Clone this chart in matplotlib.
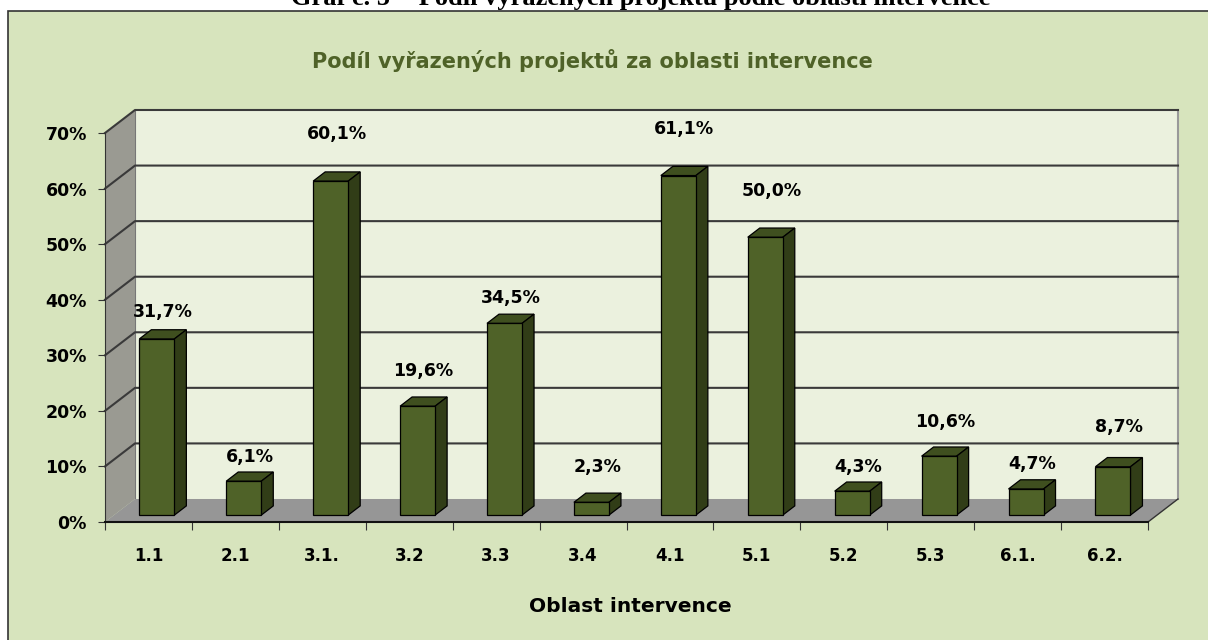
import matplotlib
matplotlib.use("Agg")
import matplotlib.pyplot as plt
from matplotlib.patches import Polygon, Rectangle

# data
oblasti = ["1.1", "2.1", "3.1.", "3.2", "3.3", "3.4", "4.1", "5.1", "5.2", "5.3", "6.1.", "6.2."]
podil = [31.7, 6.1, 60.1, 19.6, 34.5, 2.3, 61.1, 50.0, 4.3, 10.6, 4.7, 8.7]
y_ticks = [0, 10, 20, 30, 40, 50, 60, 70]

# label lift above bar top (points), as placed in the original
label_lift = [13, 11, 27, 19, 12, 19, 27, 27, 11, 18, 11, 22]

bg = "#D7E4BD"
wall = "#EBF1DE"
floor_c = "#969696"
side_c = "#9A9A92"
bar_front = "#4F6228"
bar_top = "#3F4F1F"
bar_side = "#313D17"
grid_c = "#3A3A3A"
font = "DejaVu Sans"

fig = plt.figure(figsize=(12.08, 6.40), dpi=100)
fig.patch.set_facecolor("white")

# chart box
box = Rectangle((8 / 1208, -0.01), 1.1, (640 - 11) / 640 + 0.01, transform=fig.transFigure,
                facecolor=bg, edgecolor="#333333", linewidth=1.2, zorder=-10)
fig.patches.append(box)

# cut-off document caption at the very top
fig.text(641 / 1208, 1 - 5 / 640, "Graf č. 5 -  Podíl vyřazených projektů podle oblasti intervence",
         ha="center", va="baseline", fontsize=19, fontweight="bold",
         family="Liberation Serif", color="black", zorder=-20)

ax = fig.add_axes([105 / 1208, (640 - 522) / 640, (1148 - 105) / 1208, (522 - 133) / 640])
ax.set_xlim(-0.5, len(oblasti) - 0.5)
ax.set_ylim(0, 70)
ax.patch.set_visible(False)

n = len(oblasti)
x0, x1 = -0.5, n - 0.5
dx, dy = 0.345, 4.14   # depth of the 3D box in data units

# back wall
ax.add_patch(Rectangle((x0 + dx, dy), x1 - x0, 70, facecolor=wall, edgecolor="none", zorder=0, clip_on=False))
ax.plot([x1 + dx, x1 + dx], [dy, 70 + dy], color="#999999", lw=1.5, zorder=1, clip_on=False)
# side wall
ax.add_patch(Polygon([(x0, 0), (x0 + dx, dy), (x0 + dx, 70 + dy), (x0, 70)],
                     facecolor=side_c, edgecolor="none", zorder=0, clip_on=False))
ax.plot([x0 + dx, x0 + dx], [dy, 70 + dy], color="#777777", lw=0.8, zorder=1, clip_on=False)
# floor
ax.add_patch(Polygon([(x0, 0), (x1, 0), (x1 + dx, dy), (x0 + dx, dy)],
                     facecolor=floor_c, edgecolor="none", zorder=1, clip_on=False))
ax.plot([x1, x1 + dx], [0, dy], color="#333333", lw=1, zorder=2, clip_on=False)

# gridlines
for t in y_ticks[1:]:
    ax.plot([x0, x0 + dx, x1 + dx], [t, t + dy, t + dy], color=grid_c, lw=1.5, zorder=1, clip_on=False)

# bars
w = 0.403
for i, v in enumerate(podil):
    left = i - w / 2 + 0.28 * dx
    base = 0.3 * dy
    ddx, ddy = 0.4 * dx, 0.4 * dy
    ax.add_patch(Polygon([(left, base + v), (left + w, base + v), (left + w + ddx, base + v + ddy),
                          (left + ddx, base + v + ddy)],
                         facecolor=bar_top, edgecolor="black", lw=0.9, zorder=3, clip_on=False))
    ax.add_patch(Polygon([(left + w, base), (left + w + ddx, base + ddy), (left + w + ddx, base + v + ddy),
                          (left + w, base + v)],
                         facecolor=bar_side, edgecolor="black", lw=0.9, zorder=3, clip_on=False))
    ax.add_patch(Rectangle((left, base), w, v, facecolor=bar_front, edgecolor="black", lw=0.9,
                           zorder=4, clip_on=False))
    ax.annotate(f"{v:.1f}%".replace(".", ","), xy=(left + w / 2 + ddx / 2, base + v + ddy),
                xytext=(0, label_lift[i]), textcoords="offset points",
                ha="center", va="center", fontsize=12.5, fontweight="bold", family=font,
                annotation_clip=False, zorder=5)

# axes
for s in ["top", "right"]:
    ax.spines[s].set_visible(False)
ax.spines["left"].set_color("#333333")
ax.spines["bottom"].set_color("#111111")
ax.spines["bottom"].set_linewidth(1.5)
ax.spines["left"].set_zorder(2)
ax.set_yticks(y_ticks)
ax.set_yticklabels([f"{t}%" for t in y_ticks], fontsize=12.5, fontweight="bold", family=font)
ax.set_xticks([k - 0.5 for k in range(n + 1)])
ax.set_xticklabels([])
ax.set_xticks(range(n), minor=True)
ax.set_xticklabels(oblasti, minor=True, fontsize=12, fontweight="bold", family=font)
ax.tick_params(axis="x", which="major", length=6, color="#333333")
ax.tick_params(axis="x", which="minor", length=0, pad=18)
ax.tick_params(axis="y", length=5, pad=8, color="#333333")

fig.text(592 / 1208, 1 - 60 / 640, "Podíl vyřazených projektů za oblasti intervence",
         ha="center", va="center", fontsize=15, fontweight="bold", family=font, color="#4F6228")
fig.text(630 / 1208, 1 - 606 / 640, "Oblast intervence",
         ha="center", va="center", fontsize=14.5, fontweight="bold", family=font, color="black")

fig.savefig("out.png", dpi=100, facecolor=fig.get_facecolor())
